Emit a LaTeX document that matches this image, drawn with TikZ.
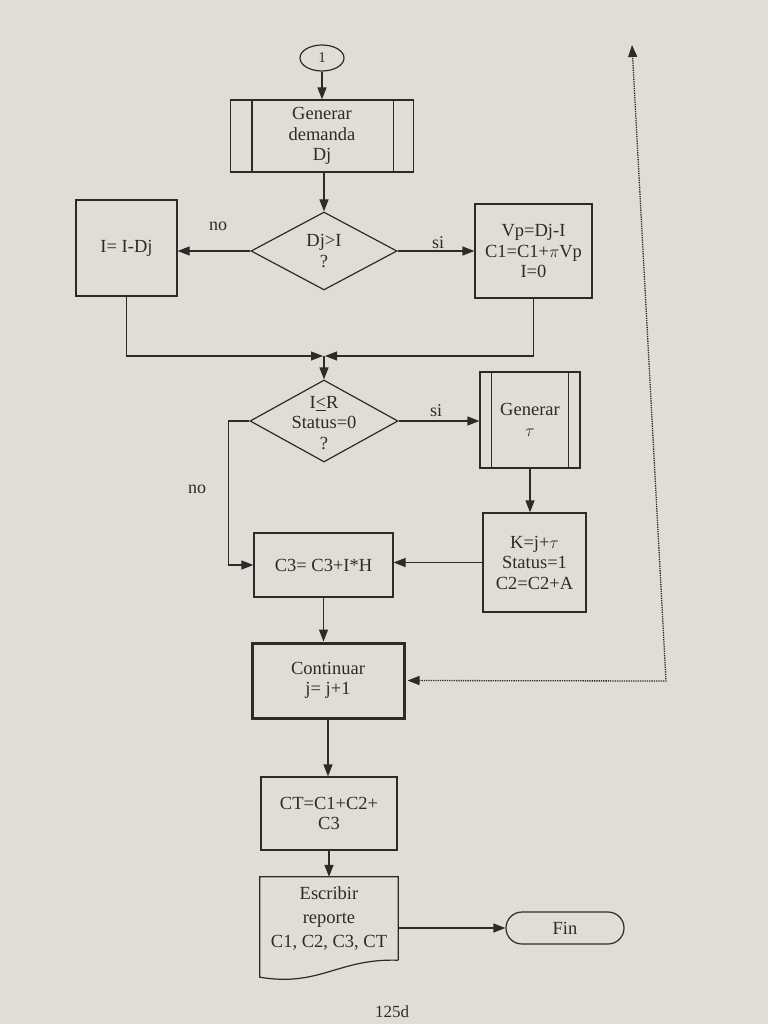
\documentclass[tikz,border=0pt]{standalone}
\usepackage{fontspec}
\setmainfont{Liberation Serif}
\usetikzlibrary{shapes.geometric,shapes.misc,arrows.meta}
\definecolor{ink}{RGB}{45,43,41}
\definecolor{paper}{RGB}{224,221,214}
\begin{document}
\begin{tikzpicture}[x=1pt,y=-1pt,
  every node/.style={font=\fontsize{18.5}{20.5}\selectfont, align=center, text=ink},
  box/.style={draw=ink, line width=1.2pt, inner sep=0pt},
  arr/.style={draw=ink, line width=1.2pt, -{Triangle[length=12pt,width=9pt]}},
  dots/.style={draw=ink, line width=1.3pt, densely dotted},
  lbl/.style={font=\fontsize{18}{18}\selectfont}
]
\fill[paper] (0,0) rectangle (768,1024);
\useasboundingbox (0,0) rectangle (768,1024);

% nodes
\node[ellipse,box,minimum width=44,minimum height=26,font=\fontsize{15}{15}\selectfont] (c1) at (322,58) {1};
\node[box,minimum width=183,minimum height=72] (gd) at (322,136) {Generar\\demanda\\Dj};
\draw[ink,line width=1.2pt] ([xshift=22pt]gd.north west) -- ([xshift=22pt]gd.south west);
\draw[ink,line width=1.2pt] ([xshift=-21pt]gd.north east) -- ([xshift=-21pt]gd.south east);

\node[diamond,box,minimum width=146,minimum height=78] (d1) at (324,251) {};
\node at (d1) {Dj>I\\?};
\node[box,minimum width=101,minimum height=96] (a) at (126.5,248) {I= I-Dj};
\node[box,minimum width=117,minimum height=94] (b) at (533.5,251) {Vp=Dj-I\\C1=C1+$\pi$Vp\\I=0};
\coordinate (m) at (324,356);

\node[diamond,box,minimum width=148,minimum height=82] (d2) at (324,421) {};
\node at ([yshift=-2pt]d2) {I\underline{<}R\\Status=0\\?};
\node[box,minimum width=100,minimum height=96] (gt) at (530,420) {Generar\\$\tau$};
\draw[ink,line width=1.2pt] ([xshift=12pt]gt.north west) -- ([xshift=12pt]gt.south west);
\draw[ink,line width=1.2pt] ([xshift=-12pt]gt.north east) -- ([xshift=-12pt]gt.south east);
\node[box,minimum width=103,minimum height=99] (k) at (534.5,562.5) {K=j+$\tau$\\Status=1\\C2=C2+A};
\node[box,minimum width=139,minimum height=64] (c3) at (323.5,565) {C3= C3+I*H};
\node[box,line width=3pt,minimum width=152,minimum height=75] (cont) at (328,680.5) {Continuar\\j= j+1};
\node[box,minimum width=136,minimum height=73] (ct) at (329,813.5) {CT=C1+C2+\\C3};
\node[inner sep=0pt,minimum width=138,minimum height=83,font=\fontsize{18.5}{24}\selectfont] (rep) at (329,918.5) {Escribir\\reporte\\C1, C2, C3, CT};
\draw[ink,line width=1.2pt] (rep.south east) -- (rep.north east) -- (rep.north west) -- ([yshift=-17pt]rep.south west)
  .. controls ([xshift=60pt,yshift=-27pt]rep.south west) and ([xshift=-60pt,yshift=2pt]rep.south east) .. (rep.south east);
\node[rounded rectangle,box,minimum width=118,minimum height=32] (fin) at (565,928) {Fin};

% connectors
\draw[arr] (c1.south) -- (gd.north);
\draw[arr] (gd.south -| d1.north) -- (d1.north);
\draw[arr] (d1.west) -- (d1.west -| a.east);
\draw[arr] (d1.east) -- (d1.east -| b.west);
\node[lbl] (no1) at (218,226) {no};
\node[lbl] (si1) at (438,243) {si};
\draw[arr] (a.south) |- ([xshift=-1pt]m);
\draw[arr] (b.south) |- ([xshift=1pt]m);
\draw[arr] (m) -- (d2.north);
\draw[arr] (d2.east) -- (d2.east -| gt.west);
\node[lbl] (si2) at (436,411) {si};
\draw[arr] (gt.south) -- (gt.south |- k.north);
\draw[arr] (k.west) -- (k.west -| c3.east);
\draw[arr] (d2.west) -- ++(-21,0) |- (c3.west);
\node[lbl] (no2) at (197,489) {no};
\draw[arr] (c3.south) -- (c3.south |- cont.north);
\draw[arr] (cont.south) -- (cont.south |- ct.north);
\draw[arr] (ct.south) -- (rep.north);
\draw[arr] (rep.east |- fin.west) -- (fin.west);

% dotted loop
\coordinate (lb) at (666,681);
\coordinate (lt) at (632,45);
\draw[dots, {Triangle[length=12pt,width=9pt]}-{Triangle[length=12pt,width=9pt]}] ([xshift=2pt]cont.east) -- (lb) -- (lt);

\node[font=\fontsize{17}{17}\selectfont] (pg) at (392,1012) {125d};
\end{tikzpicture}
\end{document}
